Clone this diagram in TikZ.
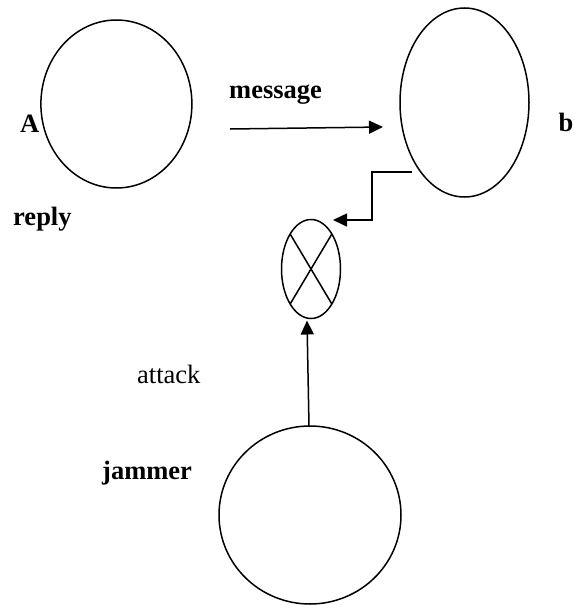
\documentclass[tikz,border=0pt]{standalone}
\usepackage{fontspec}
\setmainfont{Liberation Serif}
\usetikzlibrary{arrows.meta,calc,shapes.geometric}
\tikzset{
  ell/.style={draw, ellipse, line width=1.5pt, inner sep=0pt, outer sep=0pt},
  arr/.style={line width=1.5pt, -{Triangle[length=14pt,width=13pt]}},
  lbl/.style={anchor=base west, inner sep=0pt, font=\fontsize{26.5}{30}\selectfont},
  blbl/.style={lbl, font=\fontsize{26.5}{30}\selectfont\bfseries}
}
\begin{document}
\begin{tikzpicture}[x=1pt,y=-1pt]
\useasboundingbox (0,0) rectangle (574,605);
\node[ell, minimum width=151pt, minimum height=168pt] (A) at (116.4,104) {};
\node[ell, minimum width=129pt, minimum height=189pt] (B) at (464.5,102.5) {};
\node[ell, minimum width=59pt, minimum height=99pt] (X) at (311,269) {};
\node[ell, minimum width=182pt, minimum height=178pt] (J) at (310,515) {};
\draw[line width=1.5pt] (X.north west) -- (X.south east);
\draw[line width=1.5pt] (X.north east) -- (X.south west);
% labels
\node[blbl] (lA) at (20,132) {A};
\node[blbl] (lmsg) at (229,98) {message};
\node[blbl] (lb) at (558.5,131) {b};
\node[blbl] (lreply) at (13,225) {reply};
\node[lbl] (latt) at (137,383) {attack};
\node[blbl] (ljam) at (102,479) {jammer};
% connectors
\coordinate (m0) at (230,129);
\coordinate (m1) at (383,127);
\draw[arr] (m0) -- (m1);
\coordinate (e0) at (412,172);
\coordinate (e1) at (333,220);
\draw[arr] (e0) -- (372,172) -- (372,220) -- (e1);
\draw[arr] ($(J.north)+(-1,0)$) -- ($(X.south)+(-4,2)$);
\end{tikzpicture}
\end{document}
